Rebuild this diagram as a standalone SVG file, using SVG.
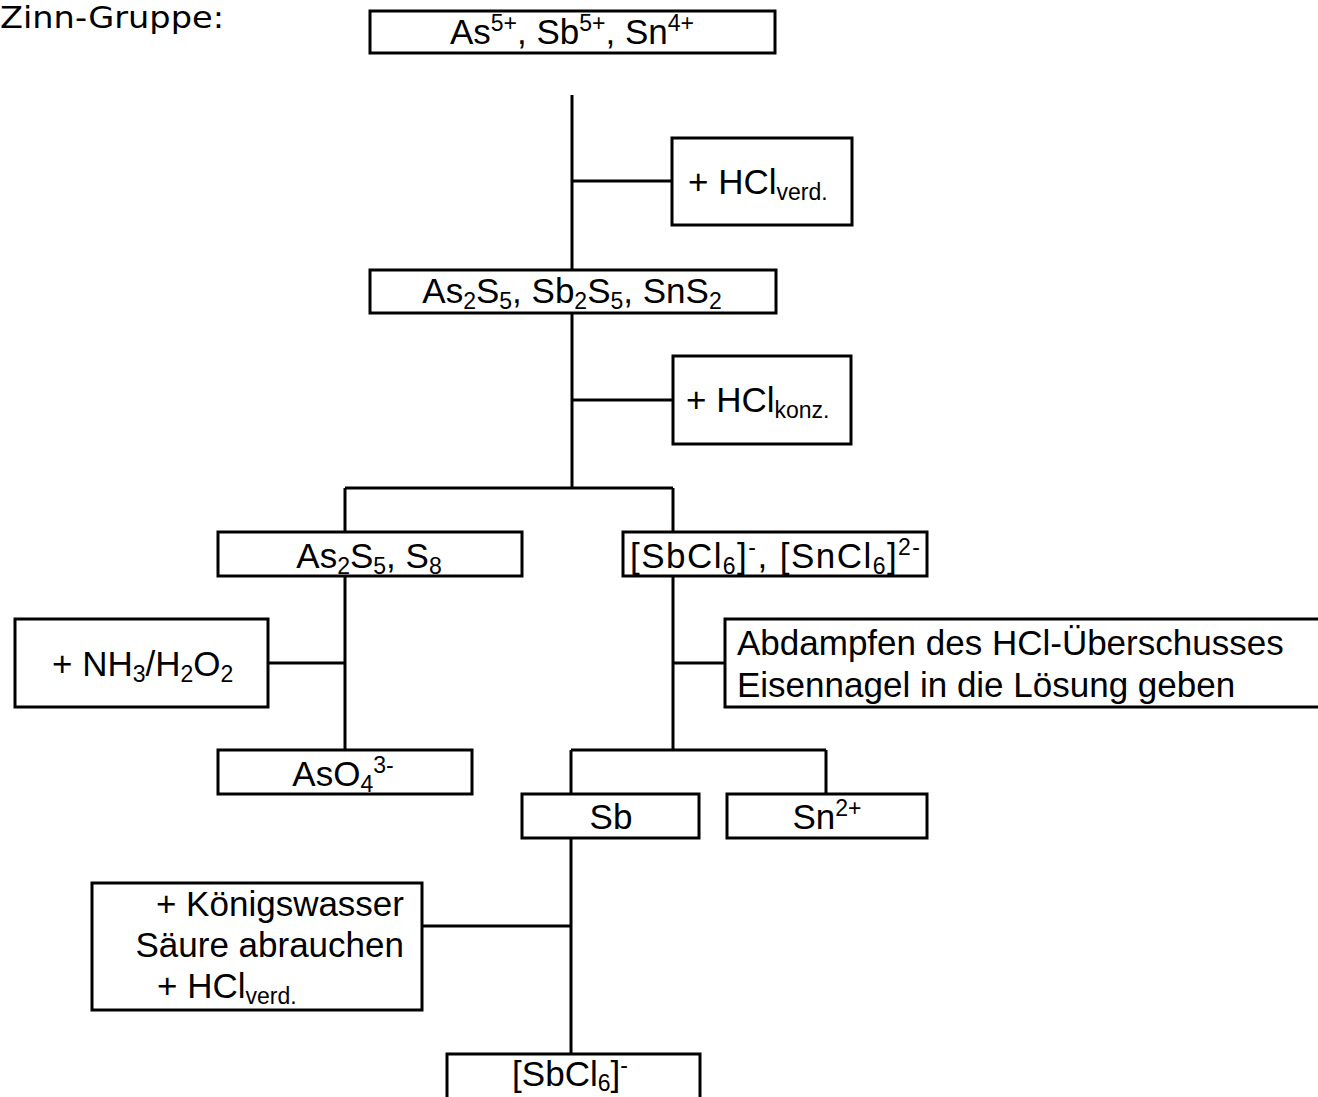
<svg xmlns="http://www.w3.org/2000/svg" width="1318" height="1097" viewBox="0 0 1318 1097">
<style>
  .box{fill:#fff;stroke:#000;stroke-width:3}
  .ln{stroke:#000;stroke-width:3;fill:none}
  .t{font-family:"Liberation Sans",Arial,sans-serif;font-size:35px;fill:#000}
  .m{text-anchor:middle}
  .e{text-anchor:end}
  .s{font-size:23px}
  .title{font-family:"DejaVu Sans",sans-serif;font-size:31px;fill:#000}
</style>
<rect width="1318" height="1097" fill="#fff"/>
<text class="title" x="0" y="28" textLength="224" lengthAdjust="spacingAndGlyphs">Zinn-Gruppe:</text>
<g id="connectors">
  <path class="ln" d="M572 95V270M572 181H672M572 313V488M572 400H673M345 488H673M345 488V532M673 488V532M345 576V750M268 663H345M673 576V750M673 663H725M571 750H826M571 750V794M826 750V794M571 838V1054M422 926H571"/>
</g>
<g id="n-top">
  <rect class="box" x="370" y="11" width="405" height="42"/>
  <text class="t m" x="572" y="44">As<tspan class="s" dy="-13">5+</tspan><tspan dy="13">, Sb</tspan><tspan class="s" dy="-13">5+</tspan><tspan dy="13">, Sn</tspan><tspan class="s" dy="-13">4+</tspan></text>
</g>
<g id="n-hclverd">
  <rect class="box" x="672" y="138" width="180" height="87"/>
  <text class="t" x="688" y="194">+ HCl<tspan class="s" dy="6">verd.</tspan></text>
</g>
<g id="n-sulfides">
  <rect class="box" x="370" y="270" width="406" height="43"/>
  <text class="t m" x="572" y="303">As<tspan class="s" dy="6">2</tspan><tspan dy="-6">S</tspan><tspan class="s" dy="6">5</tspan><tspan dy="-6">, Sb</tspan><tspan class="s" dy="6">2</tspan><tspan dy="-6">S</tspan><tspan class="s" dy="6">5</tspan><tspan dy="-6">, SnS</tspan><tspan class="s" dy="6">2</tspan></text>
</g>
<g id="n-hclkonz">
  <rect class="box" x="673" y="356" width="178" height="88"/>
  <text class="t" x="686" y="412">+ HCl<tspan class="s" dy="6">konz.</tspan></text>
</g>
<g id="n-as2s5">
  <rect class="box" x="218" y="532" width="304" height="44"/>
  <text class="t m" x="369" y="568">As<tspan class="s" dy="6">2</tspan><tspan dy="-6">S</tspan><tspan class="s" dy="6">5</tspan><tspan dy="-6">, S</tspan><tspan class="s" dy="6">8</tspan></text>
</g>
<g id="n-chloro">
  <rect class="box" x="623" y="532" width="304" height="44"/>
  <text class="t m" x="775" y="568" textLength="290" lengthAdjust="spacing">[SbCl<tspan class="s" dy="6">6</tspan><tspan dy="-6">]</tspan><tspan class="s" dy="-13">-</tspan><tspan dy="13">, [SnCl</tspan><tspan class="s" dy="6">6</tspan><tspan dy="-6">]</tspan><tspan class="s" dy="-13">2-</tspan></text>
</g>
<g id="n-nh3">
  <rect class="box" x="15" y="619" width="253" height="88"/>
  <text class="t" x="52" y="676">+ NH<tspan class="s" dy="6">3</tspan><tspan dy="-6">/H</tspan><tspan class="s" dy="6">2</tspan><tspan dy="-6">O</tspan><tspan class="s" dy="6">2</tspan></text>
</g>
<g id="n-aso4">
  <rect class="box" x="218" y="750" width="254" height="44"/>
  <text class="t m" x="343" y="786">AsO<tspan class="s" dy="6">4</tspan><tspan class="s" dy="-19">3-</tspan></text>
</g>
<g id="n-abdampfen">
  <rect class="box" x="725" y="619" width="620" height="88"/>
  <text class="t" x="737" y="655">Abdampfen des HCl-Überschusses</text>
  <text class="t" x="737" y="697">Eisennagel in die Lösung geben</text>
</g>
<g id="n-sb">
  <rect class="box" x="522" y="794" width="177" height="44"/>
  <text class="t m" x="611" y="829">Sb</text>
</g>
<g id="n-sn">
  <rect class="box" x="727" y="794" width="200" height="44"/>
  <text class="t m" x="827" y="829">Sn<tspan class="s" dy="-13">2+</tspan></text>
</g>
<g id="n-koenigswasser">
  <rect class="box" x="92" y="883" width="330" height="127"/>
  <text class="t e" x="404" y="916">+ Königswasser</text>
  <text class="t e" x="404" y="957">Säure abrauchen</text>
  <text class="t" x="157" y="998">+ HCl<tspan class="s" dy="6">verd.</tspan></text>
</g>
<g id="n-sbcl6">
  <rect class="box" x="447" y="1054" width="253" height="60"/>
  <text class="t m" x="570" y="1086">[SbCl<tspan class="s" dy="5">6</tspan><tspan dy="-5">]</tspan><tspan class="s" dy="-13">-</tspan></text>
</g>
</svg>
